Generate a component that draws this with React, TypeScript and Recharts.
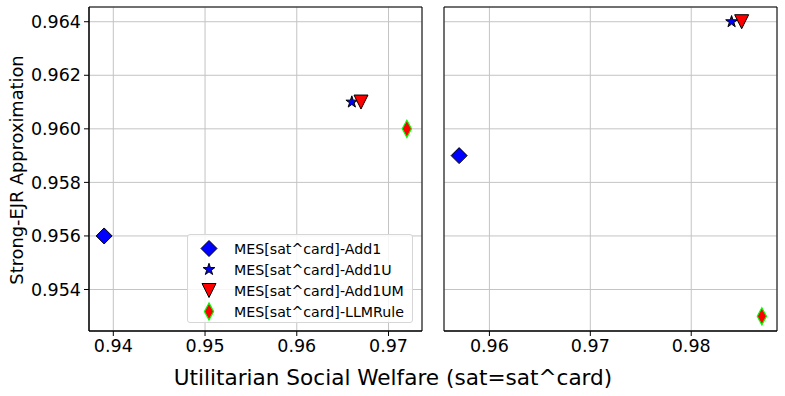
import React from "react";
import {
  ScatterChart,
  Scatter,
  XAxis,
  YAxis,
  CartesianGrid,
  ReferenceArea,
  Legend,
} from "recharts";

const seriesNames = [
  "MES[sat^card]-Add1",
  "MES[sat^card]-Add1U",
  "MES[sat^card]-Add1UM",
  "MES[sat^card]-LLMRule",
];
const leftWelfare = [0.939, 0.966, 0.967, 0.972];
const leftEjr = [0.956, 0.961, 0.961, 0.96];
const rightWelfare = [0.957, 0.984, 0.985, 0.987];
const rightEjr = [0.959, 0.964, 0.964, 0.953];
const leftXTicks = [0.94, 0.95, 0.96, 0.97];
const rightXTicks = [0.96, 0.97, 0.98];
const yTicks = [0.954, 0.956, 0.958, 0.96, 0.962, 0.964];

const FONT = "'DejaVu Sans', sans-serif";
const GRID = "#c4c4c4";

// matplotlib-style 5% margins
function pad(vals: number[]): [number, number] {
  const lo = Math.min(...vals);
  const hi = Math.max(...vals);
  const m = (hi - lo) * 0.05;
  return [lo - m, hi + m];
}
const yDomain = pad([...leftEjr, ...rightEjr]);
const leftXDomain = pad(leftWelfare);
const rightXDomain = pad(rightWelfare);

type MarkerProps = { cx?: number; cy?: number };

function Diamond({ cx = 0, cy = 0 }: MarkerProps) {
  const s = 8;
  return (
    <path
      d={`M${cx},${cy - s}L${cx + s},${cy}L${cx},${cy + s}L${cx - s},${cy}Z`}
      fill="#0000ff"
      stroke="#000"
      strokeWidth={1}
    />
  );
}

function Star({ cx = 0, cy = 0 }: MarkerProps) {
  const R = 6.2;
  const r = R * 0.382;
  const pts: string[] = [];
  for (let i = 0; i < 10; i++) {
    const a = -Math.PI / 2 + (i * Math.PI) / 5;
    const rad = i % 2 === 0 ? R : r;
    pts.push(`${cx + rad * Math.cos(a)},${cy + rad * Math.sin(a)}`);
  }
  return <polygon points={pts.join(" ")} fill="#0000ff" stroke="#000" strokeWidth={1} />;
}

function TriangleDown({ cx = 0, cy = 0 }: MarkerProps) {
  const s = 7;
  return (
    <path
      d={`M${cx - s},${cy - s}L${cx + s},${cy - s}L${cx},${cy + s}Z`}
      fill="#ff0000"
      stroke="#000"
      strokeWidth={1}
    />
  );
}

function ThinDiamond({ cx = 0, cy = 0 }: MarkerProps) {
  const w = 4.6;
  const h = 8.6;
  return (
    <path
      d={`M${cx},${cy - h}L${cx + w},${cy}L${cx},${cy + h}L${cx - w},${cy}Z`}
      fill="#ff0000"
      stroke="#00ff00"
      strokeWidth={1.2}
    />
  );
}

const markers = [Diamond, Star, TriangleDown, ThinDiamond];

function LegendBox() {
  return (
    <div
      style={{
        width: 226,
        height: 89,
        boxSizing: "border-box",
        border: "1px solid #d6d6d6",
        borderRadius: 3,
        background: "rgba(255,255,255,0.85)",
        paddingTop: 3,
        fontFamily: FONT,
        fontSize: 14.2,
        color: "#000",
      }}
    >
      {seriesNames.map((name, i) => {
        const M = markers[i];
        return (
          <div key={name} style={{ display: "flex", alignItems: "center", height: 21 }}>
            <svg width={46} height={21} style={{ flex: "none" }}>
              <M cx={21} cy={10.5} />
            </svg>
            <span>{name}</span>
          </div>
        );
      })}
    </div>
  );
}

const tickStyle = { fontSize: 17.5, fill: "#000", fontFamily: FONT };

function Panel({
  welfare,
  ejr,
  xTicks,
  xDomain,
  showYLabels,
  showLegend,
  width,
  marginLeft,
}: {
  welfare: number[];
  ejr: number[];
  xTicks: number[];
  xDomain: [number, number];
  showYLabels: boolean;
  showLegend: boolean;
  width: number;
  marginLeft: number;
}) {
  const rows = welfare.map((x, i) => ({ x, y: ejr[i] }));
  return (
    <ScatterChart
      width={width}
      height={396}
      margin={{ top: 7, right: 8, bottom: 35, left: marginLeft }}
    >
      <CartesianGrid stroke={GRID} strokeWidth={1} />
      <XAxis
        type="number"
        dataKey="x"
        domain={xDomain}
        ticks={xTicks}
        allowDataOverflow
        height={30}
        tickSize={5}
        tickMargin={4}
        stroke="#000"
        tick={tickStyle}
        tickFormatter={(v: number) => v.toFixed(2)}
      />
      <YAxis
        type="number"
        dataKey="y"
        domain={yDomain}
        ticks={yTicks}
        allowDataOverflow
        width={showYLabels ? 60 : 0}
        tickSize={5}
        tickMargin={3}
        stroke="#000"
        tick={showYLabels ? tickStyle : () => <g />}
        tickFormatter={(v: number) => v.toFixed(3)}
        label={
          showYLabels
            ? {
                content: () => (
                  <text
                    x={16}
                    y={170}
                    transform="rotate(-90 16 170)"
                    textAnchor="middle"
                    dominantBaseline="central"
                    fontSize={17.8}
                    fontFamily={FONT}
                    fill="#000"
                  >
                    Strong-EJR Approximation
                  </text>
                ),
              }
            : undefined
        }
      />
      <ReferenceArea
        x1={xDomain[0]}
        x2={xDomain[1]}
        y1={yDomain[0]}
        y2={yDomain[1]}
        fill="none"
        stroke="#000"
        strokeWidth={1}
        fillOpacity={0}
        strokeOpacity={1}
      />
      {rows.map((row, i) => {
        const M = markers[i];
        return (
          <Scatter
            key={seriesNames[i]}
            name={seriesNames[i]}
            data={[row]}
            isAnimationActive={false}
            shape={(p: MarkerProps) => <M cx={p.cx} cy={p.cy} />}
          />
        );
      })}
      {showLegend && (
        <Legend
          layout="vertical"
          align="center"
          verticalAlign="middle"
          wrapperStyle={{ position: "absolute", left: 187, top: 234, width: 226, height: 89 }}
          content={() => <LegendBox />}
        />
      )}
    </ScatterChart>
  );
}

export default function App() {
  return (
    <div
      style={{
        position: "absolute",
        left: 0,
        top: 0,
        width: 785,
        height: 396,
        background: "#fff",
        fontFamily: FONT,
      }}
    >
      <div style={{ position: "absolute", left: 0, top: 0 }}>
        <Panel
          welfare={leftWelfare}
          ejr={leftEjr}
          xTicks={leftXTicks}
          xDomain={leftXDomain}
          showYLabels
          showLegend
          width={430}
          marginLeft={29}
        />
      </div>
      <div style={{ position: "absolute", left: 430, top: 0 }}>
        <Panel
          welfare={rightWelfare}
          ejr={rightEjr}
          xTicks={rightXTicks}
          xDomain={rightXDomain}
          showYLabels={false}
          showLegend={false}
          width={355}
          marginLeft={14}
        />
      </div>
      <div
        style={{
          position: "absolute",
          left: 0,
          width: 786,
          top: 366,
          textAlign: "center",
          fontSize: 21.6,
          lineHeight: "24px",
          color: "#000",
        }}
      >
        Utilitarian Social Welfare (sat=sat^card)
      </div>
    </div>
  );
}
